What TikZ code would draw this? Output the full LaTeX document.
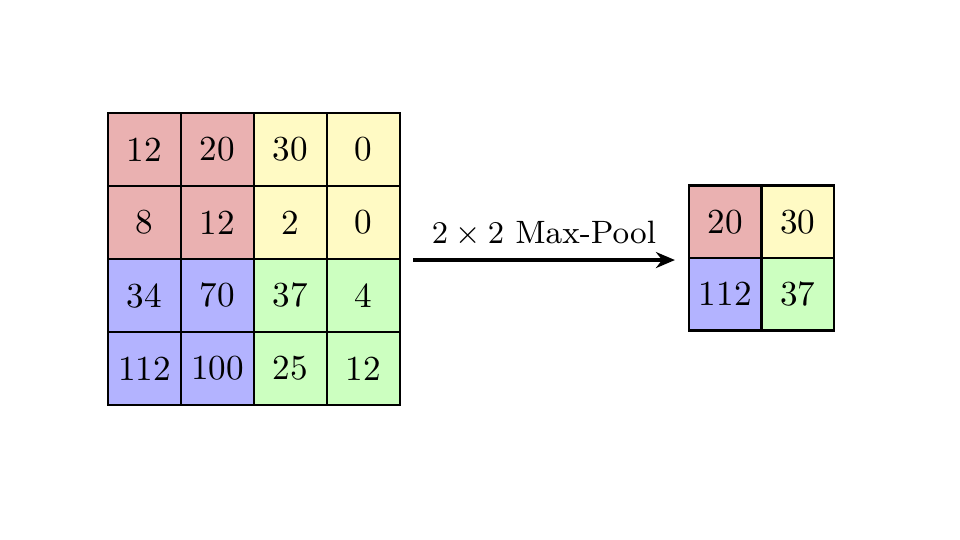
\documentclass[tikz,border=0pt]{standalone}
\usepackage{xcolor}
\usepackage{tikz}
\usetikzlibrary{positioning,calc,arrows.meta}

\definecolor{poolred}{HTML}{EAB1B1}
\definecolor{poolyellow}{HTML}{FFFAC4}
\definecolor{poolblue}{HTML}{B3B3FF}
\definecolor{poolgreen}{HTML}{CCFFC0}

\begin{document}
\begin{tikzpicture}[
    cellnode/.style={draw, rectangle, semithick, inner sep=0pt, minimum size=0.73cm},
    outnode/.style={draw, rectangle, semithick, inner sep=0pt, minimum size=0.725cm}
]
    \useasboundingbox (0,0) rectangle (9.6,5.4);

    % input feature map
    \node[cellnode, fill=poolred] (a11) at (1.445, 3.905) {12}; \node[cellnode, fill=poolred] (a12) at (2.175, 3.905) {20}; \node[cellnode, fill=poolyellow] (a13) at (2.905, 3.905) {30}; \node[cellnode, fill=poolyellow] (a14) at (3.635, 3.905) {0};
    \node[cellnode, fill=poolred] (a21) at (1.445, 3.175) {8}; \node[cellnode, fill=poolred] (a22) at (2.175, 3.175) {12}; \node[cellnode, fill=poolyellow] (a23) at (2.905, 3.175) {2}; \node[cellnode, fill=poolyellow] (a24) at (3.635, 3.175) {0};
    \node[cellnode, fill=poolblue] (a31) at (1.445, 2.445) {34}; \node[cellnode, fill=poolblue] (a32) at (2.175, 2.445) {70}; \node[cellnode, fill=poolgreen] (a33) at (2.905, 2.445) {37}; \node[cellnode, fill=poolgreen] (a34) at (3.635, 2.445) {4};
    \node[cellnode, fill=poolblue] (a41) at (1.445, 1.715) {112}; \node[cellnode, fill=poolblue] (a42) at (2.175, 1.715) {100}; \node[cellnode, fill=poolgreen] (a43) at (2.905, 1.715) {25}; \node[cellnode, fill=poolgreen] (a44) at (3.635, 1.715) {12};

    % pooled output
    \node[outnode, fill=poolred] (b11) at (7.2525, 3.1825) {20}; \node[outnode, fill=poolyellow] (b12) at (7.9775, 3.1825) {30};
    \node[outnode, fill=poolblue] (b21) at (7.2525, 2.4575) {112}; \node[outnode, fill=poolgreen] (b22) at (7.9775, 2.4575) {37};

    \draw[-{Stealth[length=1.9mm, width=1.6mm]}, line width=1.1pt] ([xshift=0.12cm]a24.south east) -- ([xshift=-0.13cm]b11.south west |- a24.south east)
        node[midway, above, font=\fontsize{9.2}{11}\selectfont] {$2 \times 2$ Max-Pool};
\end{tikzpicture}
\end{document}
